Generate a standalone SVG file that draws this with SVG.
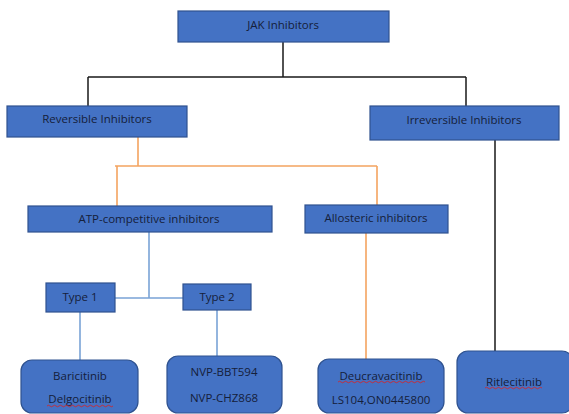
<svg xmlns="http://www.w3.org/2000/svg" width="569" height="414" viewBox="0 0 569 414">
<style>
.box{fill:#4472c4;stroke:#2f528f;stroke-width:1.2}
.t{font-family:"Open Sans","Liberation Sans",sans-serif;font-size:11.5px;fill:#15203a;text-anchor:middle;dominant-baseline:central}
.blk{stroke:#1a1a1a;stroke-width:1.5;fill:none}
.org{stroke:#f4a460;stroke-width:1.6;fill:none}
.blu{stroke:#7aa3d6;stroke-width:1.6;fill:none}
.sq{stroke:#e0201c;stroke-width:0.8;fill:none}
</style>
<rect width="569" height="414" fill="#ffffff"/>
<g id="connectors">
<path class="blk" d="M283,42 V77 M88,77 H466 M88,77 V106 M466,77 V106 M495,140 V351"/>
<path class="org" d="M138,137 V166 M115,166 H377 M117,166 V206 M377,166 V206 M366,233 V359"/>
<path class="blu" d="M149,232 V298 M115,298 H183 M80,312 V360 M217,310 V356"/>
</g>
<g id="n-jak"><rect class="box" x="178" y="11" width="211" height="31"/><text class="t" x="283" y="24">JAK Inhibitors</text></g>
<g id="n-rev"><rect class="box" x="7" y="106" width="180" height="31"/><text class="t" x="97" y="118">Reversible Inhibitors</text></g>
<g id="n-irr"><rect class="box" x="370" y="106" width="189" height="34"/><text class="t" x="464" y="119">Irreversible Inhibitors</text></g>
<g id="n-atp"><rect class="box" x="28" y="206" width="244" height="26"/><text class="t" x="149" y="218">ATP-competitive inhibitors</text></g>
<g id="n-allo"><rect class="box" x="305" y="205" width="143" height="28"/><text class="t" x="376" y="217">Allosteric inhibitors</text></g>
<g id="n-type1"><rect class="box" x="46" y="283" width="69" height="29"/><text class="t" x="80" y="296">Type 1</text></g>
<g id="n-type2"><rect class="box" x="183" y="284" width="68" height="26"/><text class="t" x="217" y="296">Type 2</text></g>
<g id="n-bari"><rect class="box" x="21" y="360" width="117" height="53" rx="11"/><text class="t" x="80" y="375">Baricitinib</text><text class="t" x="80" y="398">Delgocitinib</text><path class="sq" d="M47,406 q1.5,-1.5 3,0 t3,0 t3,0 t3,0 t3,0 t3,0 t3,0 t3,0 t3,0 t3,0 t3,0 t3,0 t3,0 t3,0 t3,0 t3,0 t3,0 t3,0 t3,0 t3,0 t3,0 t3,0"/></g>
<g id="n-nvp"><rect class="box" x="167" y="356" width="115" height="57" rx="11"/><text class="t" x="224" y="371">NVP-BBT594</text><text class="t" x="224" y="397">NVP-CHZ868</text></g>
<g id="n-deu"><rect class="box" x="318" y="359" width="126" height="54" rx="11"/><text class="t" x="381" y="375">Deucravacitinib</text><text class="t" x="381" y="399">LS104,ON0445800</text><path class="sq" d="M338,382 q1.5,-1.5 3,0 t3,0 t3,0 t3,0 t3,0 t3,0 t3,0 t3,0 t3,0 t3,0 t3,0 t3,0 t3,0 t3,0 t3,0 t3,0 t3,0 t3,0 t3,0 t3,0 t3,0 t3,0 t3,0 t3,0 t3,0 t3,0 t3,0 t3,0 t3,0"/></g>
<g id="n-rit"><rect class="box" x="457" y="351" width="116" height="62" rx="11"/><text class="t" x="514" y="381">Ritlecitinib</text><path class="sq" d="M485,388 q1.5,-1.5 3,0 t3,0 t3,0 t3,0 t3,0 t3,0 t3,0 t3,0 t3,0 t3,0 t3,0 t3,0 t3,0 t3,0 t3,0 t3,0 t3,0 t3,0 t3,0"/></g>
</svg>
